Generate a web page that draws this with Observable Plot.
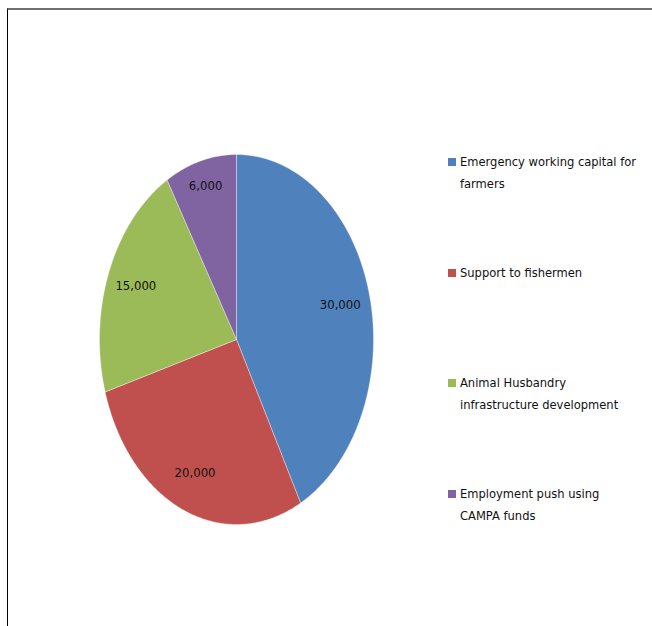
<!DOCTYPE html>
<html>
<head>
<meta charset="utf-8">
<script src="https://cdn.jsdelivr.net/npm/d3@7"></script>
<script src="https://cdn.jsdelivr.net/npm/@observablehq/plot@0.6"></script>
<style>
  html, body { margin: 0; padding: 0; background: #fff; }
  #wrap { position: relative; width: 652px; height: 626px; overflow: hidden; }
  #frame { position: absolute; left: 7px; top: 8px; width: 660px; height: 640px;
           border-top: 2px solid #707070; border-left: 1px solid #000; box-sizing: border-box; }
  #chart { position: absolute; left: 0; top: 0; }
  .lg { position: absolute; left: 448px; font-family: "Liberation Sans Narrow", "DejaVu Sans Condensed", sans-serif;
        font-size: 12.8px; line-height: 22px; color: #111; white-space: nowrap; }
  .lg .sw { position: absolute; left: 0; top: 7px; width: 8px; height: 8px; }
  .lg .tx { margin-left: 12px; }
</style>
</head>
<body>
<div id="wrap">
  <div id="frame"></div>
  <div id="chart"></div>
  <div id="legend"></div>
</div>
<script>
const categories = [
  "Emergency working capital for farmers",
  "Support to fishermen",
  "Animal Husbandry infrastructure development",
  "Employment push using CAMPA funds"
];
const values = [30000, 20000, 15000, 6000];
const labels = ["30,000", "20,000", "15,000", "6,000"];
const colors = ["#4F81BD", "#C0504D", "#9BBB59", "#8064A2"];
const legendLines = [
  ["Emergency working capital for", "farmers"],
  ["Support to fishermen"],
  ["Animal Husbandry", "infrastructure development"],
  ["Employment push using", "CAMPA funds"]
];
const legendTops = [151, 262, 372, 483];
const labelRadius = [0.78, 0.78, 0.79, 0.86];

const data = categories.map((c, i) => ({cat: c, value: values[i], label: labels[i]}));
const arcs = d3.pie().sort(null).value(d => d.value)(data);

const pts = [];
const lbl = [];
arcs.forEach((a, i) => {
  const n = Math.max(8, Math.ceil((a.endAngle - a.startAngle) * 60));
  pts.push({cat: a.data.cat, x: 0, y: 0});
  for (let k = 0; k <= n; k++) {
    const t = a.startAngle + (a.endAngle - a.startAngle) * k / n;
    pts.push({cat: a.data.cat, x: Math.sin(t), y: Math.cos(t)});
  }
  pts.push({cat: a.data.cat, x: 0, y: 0});
  const m = (a.startAngle + a.endAngle) / 2;
  lbl.push({label: a.data.label, x: labelRadius[i] * Math.sin(m), y: labelRadius[i] * Math.cos(m)});
});

const plot = Plot.plot({
  width: 652,
  height: 626,
  margin: 0,
  x: {domain: [-1, 1], range: [99, 373], axis: null},
  y: {domain: [-1, 1], range: [524, 154], axis: null},
  color: {domain: categories, range: colors},
  style: {background: "transparent", fontFamily: "'Liberation Sans Narrow', 'DejaVu Sans Condensed', sans-serif"},
  marks: [
    Plot.line(pts, {x: "x", y: "y", z: "cat", fill: "cat", stroke: "#ffffff", strokeWidth: 0.6, strokeOpacity: 0.6, curve: "linear"}),
    Plot.text(lbl, {x: "x", y: "y", text: "label", fontSize: 13, fill: "#111"})
  ]
});
document.getElementById("chart").appendChild(plot);

const lg = document.getElementById("legend");
categories.forEach((c, i) => {
  const d = document.createElement("div");
  d.className = "lg";
  d.style.top = legendTops[i] + "px";
  const sw = document.createElement("div");
  sw.className = "sw";
  sw.style.background = colors[i];
  const tx = document.createElement("div");
  tx.className = "tx";
  tx.innerHTML = legendLines[i].join("<br>");
  d.appendChild(sw);
  d.appendChild(tx);
  lg.appendChild(d);
});
</script>
</body>
</html>
